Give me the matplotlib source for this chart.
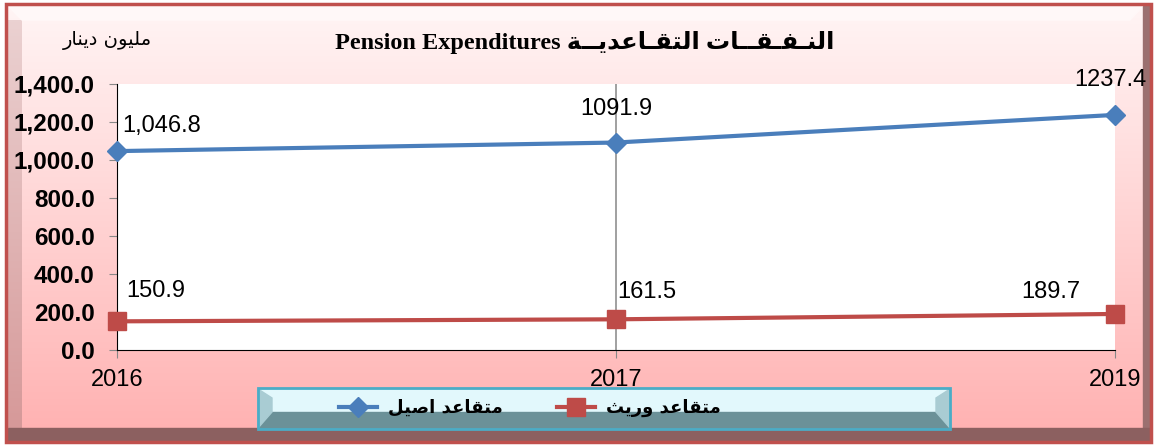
#libraries
import numpy as np
import matplotlib
matplotlib.use("Agg")
import matplotlib.pyplot as plt
from matplotlib.patches import Rectangle, Polygon

#data
years = ["2016", "2017", "2019"]
original = [1046.8, 1091.9, 1237.4]
heirs = [150.9, 161.5, 189.7]
original_labels = ["1,046.8", "1091.9", "1237.4"]
heirs_labels = ["150.9", "161.5", "189.7"]
yticks = [0, 200, 400, 600, 800, 1000, 1200, 1400]

#arabic text, already shaped and in display order (matplotlib has no shaping)
unit_txt = "\ufead\ufe8e\ufee8\ufef3\ufea9 \ufee5\ufeee\ufef4\ufee0\ufee3"
title_ar = ("\ufe94\u0640\u0640\ufef3\ufeaa\ufecb\ufe8e\u0640\ufed8\ufe98\ufedf\ufe8d "
            "\ufe95\ufe8e\u0640\u0640\ufed8\u0640\ufed4\u0640\ufee8\ufedf\ufe8d")
title_txt = "Pension Expenditures " + title_ar
label_original = "\ufede\ufef4\ufebb\ufe8d \ufeaa\ufecb\ufe8e\ufed8\ufe98\ufee3"
label_heirs = "\ufe9a\ufef3\ufead\ufeed \ufeaa\ufecb\ufe8e\ufed8\ufe98\ufee3"

W, H = 1157, 445
fig = plt.figure(figsize=(W / 100, H / 100), dpi=100)

#background frame drawn in pixel coords
bg = fig.add_axes([0, 0, 1, 1])
bg.set_xlim(0, W)
bg.set_ylim(H, 0)
bg.axis("off")

grad = np.linspace(0, 1, 256)[:, None]
top = np.array([1.0, 0.96, 0.96])
bottom = np.array([1.0, 0.70, 0.70])
img = top + (bottom - top) * grad[:, :, None]
bg.imshow(np.repeat(img, 2, axis=1), extent=[8, 1143, 428, 6], aspect="auto", zorder=0)

#left bevel
lt = np.array([0.92, 0.82, 0.82])
lb = np.array([0.84, 0.60, 0.60])
left = lt + (lb - lt) * grad[:, :, None]
bg.imshow(np.repeat(left, 2, axis=1), extent=[8, 22, 428, 20], aspect="auto", zorder=1)
bg.add_patch(Polygon([[8, 6], [22, 20], [1130, 20], [1143, 6]], closed=True, color="#fff8f8", zorder=1))
#right and bottom dark edges
bg.add_patch(Rectangle((1143, 6), 8, 436, color="#9b7070", zorder=2))
bg.add_patch(Rectangle((8, 428), 1143, 13, color="#8c6060", zorder=2))
bg.add_patch(Rectangle((6, 4), 1145, 438, fill=False, edgecolor="#c0504d", lw=2.5, zorder=3))

#legend box
bg.add_patch(Rectangle((258, 389), 692, 23, color="#e2f8fc", zorder=2))
bg.add_patch(Rectangle((258, 412), 692, 16, color="#6b9198", zorder=2))
bg.add_patch(Polygon([[258, 389], [272, 398], [272, 412], [258, 428]], closed=True, color="#a9ccd3", zorder=2))
bg.add_patch(Polygon([[950, 389], [936, 398], [936, 412], [950, 428]], closed=True, color="#a9ccd3", zorder=2))
bg.add_patch(Rectangle((258, 388), 692, 41, fill=False, edgecolor="#4bacc6", lw=2, zorder=3))

#main chart
ax = fig.add_axes([117 / W, 1 - 350 / H, (1115 - 117) / W, (350 - 84) / H])
ax.set_facecolor("white")
x = np.arange(len(years))
l1, = ax.plot(x, original, color="#4a7ebb", lw=3, marker="D", markersize=10, clip_on=False, zorder=5)
l2, = ax.plot(x, heirs, color="#be4b48", lw=3, marker="s", markersize=13, clip_on=False, zorder=5)
ax.set_xlim(0, len(years) - 1)
ax.set_ylim(0, 1400)
ax.set_xticks(x)
ax.set_xticklabels(years, fontsize=17, family="Liberation Sans")
ax.set_yticks(yticks)
ax.set_yticklabels([f"{v:,.1f}" for v in yticks], fontsize=17.5, fontweight="bold", family="Liberation Sans")
ax.tick_params(axis="y", length=6, color="#888888", pad=10)
ax.tick_params(axis="x", length=6, color="#888888", pad=8)
ax.axvline(1, color="#999999", lw=1.3, zorder=1)
for s in ["top", "right"]:
    ax.spines[s].set_visible(False)
ax.spines["left"].set_color("black")
ax.spines["bottom"].set_color("black")

#data labels
off_orig = [(4, 18, "left"), (0, 24, "center"), (-3, 25, "center")]
off_heir = [(7, 22, "left"), (1, 20, "left"), (-46, 16, "center")]
for i in range(len(years)):
    dx, dy, ha = off_orig[i]
    ax.annotate(original_labels[i], (x[i], original[i]), xytext=(dx, dy), textcoords="offset points",
                ha=ha, va="center", fontsize=17, family="Liberation Sans", annotation_clip=False)
    dx, dy, ha = off_heir[i]
    ax.annotate(heirs_labels[i], (x[i], heirs[i]), xytext=(dx, dy), textcoords="offset points",
                ha=ha, va="center", fontsize=17, family="Liberation Sans", annotation_clip=False)

#titles
fig.text(585 / W, 1 - 42 / H, title_txt, ha="center", va="center", fontsize=17.5, fontweight="bold",
         family=["Liberation Serif", "DejaVu Sans"])
fig.text(107 / W, 1 - 40 / H, unit_txt, ha="center", va="center", fontsize=14, family=["DejaVu Sans"])

#legend
fig.legend([l1, l2], [label_original, label_heirs], loc="center", bbox_to_anchor=(530 / W, 1 - 408 / H),
           ncol=2, frameon=False, handlelength=2.1, handletextpad=0.6, columnspacing=3.0,
           prop={"family": "DejaVu Sans", "weight": "bold", "size": 13})

plt.savefig("out.png", dpi=100)
